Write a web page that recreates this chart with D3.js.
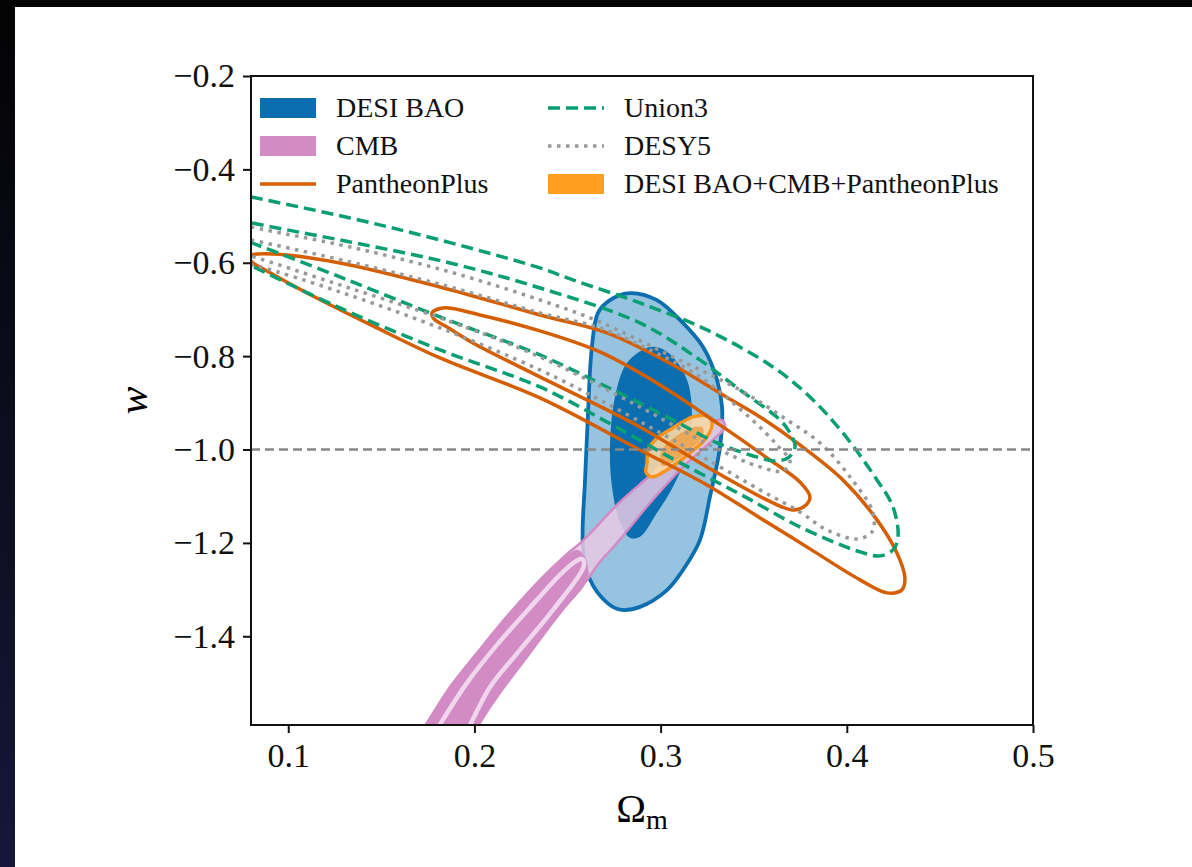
<!DOCTYPE html>
<html lang="en">
<head>
    <meta charset="UTF-8">
    <title>w vs Omega_m contours</title>
    <script src="https://cdn.jsdelivr.net/npm/d3@7"></script>
    <style>
        body{
            margin: 0;
            background: #000;
        }
        text{
            font-family: "Liberation Serif", "DejaVu Serif", serif;
        }
    </style>
</head>
<body>
<svg id="fig" width="1192" height="867"></svg>

<script>
    // tick values
    let xTicks = [0.1, 0.2, 0.3, 0.4, 0.5]
    let yTicks = [-0.2, -0.4, -0.6, -0.8, -1.0, -1.2, -1.4]

    // contours, [Omega_m, w]
    let desiOuter = [[0.2835,-0.665],[0.298,-0.680],[0.3104,-0.7225],[0.3227,-0.780],[0.3303,-0.851],
        [0.333,-0.909],[0.3319,-0.994],[0.3265,-1.101],[0.3211,-1.194],[0.312,-1.258],[0.3034,-1.301],
        [0.2889,-1.337],[0.2782,-1.343],[0.2712,-1.328],[0.2621,-1.279],[0.2583,-1.209],[0.2594,-1.065],
        [0.261,-0.922],[0.2631,-0.780],[0.2664,-0.707],[0.2728,-0.680]]
    let desiInner = [[0.2927,-0.7824],[0.2997,-0.7824],[0.3066,-0.8017],[0.3142,-0.851],[0.3168,-0.9216],
        [0.3142,-1.0073],[0.3066,-1.080],[0.298,-1.1358],[0.2889,-1.187],[0.2835,-1.189],[0.2782,-1.157],
        [0.2739,-1.080],[0.2728,-0.994],[0.2755,-0.887],[0.2819,-0.8146]]

    let cmbOuter = [[0.1616,-1.6647],[0.1745,-1.5854],[0.1869,-1.5084],[0.2014,-1.4355],[0.2191,-1.3499],
        [0.2368,-1.2728],[0.2486,-1.2278],[0.2583,-1.195],[0.2775,-1.115],[0.2945,-1.055],[0.3125,-0.988],
        [0.3245,-0.9475],[0.333,-0.9370],[0.3346,-0.9516],[0.3281,-0.9794],[0.312,-1.0373],[0.2943,-1.1143],
        [0.2766,-1.2],[0.2674,-1.2407],[0.2605,-1.2792],[0.2443,-1.3585],[0.2282,-1.4441],[0.2137,-1.5212],
        [0.203,-1.5854],[0.1933,-1.6647]]
    let cmbTail = [[0.1616,-1.6647],[0.1745,-1.5854],[0.1869,-1.5084],[0.2014,-1.4355],[0.2191,-1.3499],
        [0.2368,-1.2728],[0.2486,-1.23],[0.2556,-1.215],[0.2599,-1.2364],[0.2605,-1.2792],[0.2443,-1.3585],
        [0.2282,-1.4441],[0.2137,-1.5212],[0.203,-1.5854],[0.1933,-1.6647]]
    let cmbInner = [[0.1697,-1.6647],[0.182,-1.5854],[0.196,-1.4998],[0.2121,-1.4184],[0.2336,-1.322],
        [0.2459,-1.2685],[0.254,-1.2407],[0.2578,-1.2343],[0.2588,-1.2493],[0.2422,-1.3435],[0.2245,-1.4291],
        [0.2084,-1.5084],[0.1982,-1.5854],[0.1879,-1.6647]]

    let pantheonOuter = [[0.0805,-0.5833],[0.0918,-0.5812],[0.1278,-0.6004],[0.1815,-0.6518],[0.2352,-0.7118],
        [0.2712,-0.7503],[0.3066,-0.8188],[0.3335,-0.8831],[0.3534,-0.9302],[0.3748,-0.9901],[0.3979,-1.0651],
        [0.4162,-1.1507],[0.4269,-1.2214],[0.4312,-1.2749],[0.4296,-1.3006],[0.4216,-1.307],[0.4071,-1.2792],
        [0.3802,-1.2128],[0.3534,-1.1465],[0.3249,-1.0758],[0.2889,-1.0009],[0.2352,-0.8895],[0.1815,-0.8039],
        [0.1455,-0.7353],[0.1101,-0.6647],[0.0886,-0.6176],[0.0805,-0.5983],[0.0789,-0.5897]]
    let pantheonInner = [[0.1772,-0.7075],[0.1831,-0.6968],[0.203,-0.7118],[0.2352,-0.746],[0.2674,-0.791],
        [0.2997,-0.8617],[0.3319,-0.9473],[0.3587,-1.0223],[0.3748,-1.0694],[0.3802,-1.1015],[0.3775,-1.1208],
        [0.3711,-1.1293],[0.3603,-1.1143],[0.3249,-1.0373],[0.2889,-0.9516],[0.2352,-0.8445],[0.1992,-0.7717],
        [0.1853,-0.7375],[0.1783,-0.7203]]

    let union3Outer = [[0.0687,-0.4505],[0.08,-0.4591],[0.1332,-0.5041],[0.1815,-0.5512],[0.2352,-0.6111],
        [0.2529,-0.6368],[0.2889,-0.6861],[0.3249,-0.7439],[0.3603,-0.8231],[0.3802,-0.8874],[0.3979,-0.9645],
        [0.4162,-1.0651],[0.4248,-1.1229],[0.4275,-1.1872],[0.4248,-1.215],[0.4178,-1.2278],[0.4071,-1.2193],
        [0.3748,-1.1657],[0.3464,-1.1036],[0.3249,-1.0587],[0.3066,-1.0201],[0.2712,-0.9409],[0.2352,-0.866],
        [0.1815,-0.7867],[0.1278,-0.6968],[0.0805,-0.6069],[0.0687,-0.5833]]
    let union3Inner = [[0.0687,-0.5041],[0.0805,-0.5148],[0.1332,-0.5555],[0.1869,-0.6004],[0.2352,-0.654],
        [0.2889,-0.7289],[0.3211,-0.8081],[0.3426,-0.8724],[0.3641,-0.9366],[0.3695,-0.9645],[0.3722,-0.9944],
        [0.3684,-1.018],[0.3614,-1.0244],[0.3534,-1.018],[0.3303,-0.9859],[0.3066,-0.9366],[0.2712,-0.866],
        [0.2352,-0.7974],[0.1815,-0.7161],[0.1278,-0.6304],[0.0805,-0.5576],[0.0687,-0.5405]]

    let desy5Outer = [[0.0687,-0.5126],[0.08,-0.5233],[0.1332,-0.5662],[0.1869,-0.6197],[0.2352,-0.6797],
        [0.2674,-0.7268],[0.3066,-0.8017],[0.3426,-0.8724],[0.3679,-0.9366],[0.3856,-0.9859],[0.4017,-1.0587],
        [0.4141,-1.1358],[0.4135,-1.1764],[0.4055,-1.1914],[0.3893,-1.1722],[0.3748,-1.1336],[0.3534,-1.0865],
        [0.3066,-0.9794],[0.2674,-0.8938],[0.2352,-0.8296],[0.1815,-0.7396],[0.1278,-0.6625],[0.0832,-0.6069],
        [0.0687,-0.594]]
    let desy5Inner = [[0.0687,-0.5426],[0.08,-0.5512],[0.1332,-0.5983],[0.1869,-0.6518],[0.2352,-0.7075],
        [0.2674,-0.7396],[0.2943,-0.7867],[0.3211,-0.8445],[0.348,-0.9323],[0.3625,-0.9901],[0.3695,-1.0266],
        [0.3657,-1.0458],[0.3534,-1.0373],[0.3281,-0.994],[0.2889,-0.9088],[0.2352,-0.8017],[0.1815,-0.7182],
        [0.1278,-0.6475],[0.08,-0.5854],[0.0687,-0.5726]]

    let comboOuter = [[0.2927,-1.0287],[0.2933,-1.0009],[0.297,-0.9794],[0.3066,-0.9537],[0.3174,-0.9302],
        [0.3249,-0.928],[0.3276,-0.943],[0.3249,-0.973],[0.3158,-1.0073],[0.3034,-1.0437],[0.2954,-1.0587],
        [0.2921,-1.048]]
    let comboInner = [[0.2997,-1.018],[0.3018,-0.994],[0.3093,-0.9687],[0.3179,-0.9516],[0.3227,-0.9537],
        [0.3222,-0.975],[0.3147,-1.005],[0.3061,-1.0287],[0.3008,-1.035]]

    let wLambda = -1.0

    let legendCol1 = ["DESI BAO", "CMB", "PantheonPlus"]
    let legendCol2 = ["Union3", "DESY5", "DESI BAO+CMB+PantheonPlus"]

    const blue = "#0a6eb0", blueLight = "#96c3df"
    const pink = "#d28bc5", pinkLight = "#e9c9e4"
    const orange = "#d55e00"
    const green = "#0a9e73"
    const grey = "#999999"
    const amber = "#f7941d"

    let svg = d3.select("#fig")

    // page background: dark margin + white sheet
    let defs = svg.append("defs")
    let grad = defs.append("linearGradient").attr("id", "edge")
        .attr("x1", 0).attr("y1", 0).attr("x2", 0).attr("y2", 1)
    grad.append("stop").attr("offset", "0%").attr("stop-color", "#030303")
    grad.append("stop").attr("offset", "100%").attr("stop-color", "#15173a")
    svg.append("rect").attr("width", 1192).attr("height", 867).attr("fill", "url(#edge)")
    svg.append("rect").attr("x", 15).attr("y", 7).attr("width", 1177).attr("height", 860).attr("fill", "#fff")

    let x = d3.scaleLinear().domain([0.08, 0.5]).range([251, 1033])
    let y = d3.scaleLinear().domain([-0.2, -1.59]).range([76, 725])

    defs.append("clipPath").attr("id", "plotclip")
        .append("rect")
        .attr("x", x.range()[0]).attr("y", y.range()[0])
        .attr("width", x.range()[1] - x.range()[0])
        .attr("height", y.range()[1] - y.range()[0])

    let closed = d3.line()
        .x(d => x(d[0]))
        .y(d => y(d[1]))
        .curve(d3.curveCatmullRomClosed.alpha(0.5))

    let plot = svg.append("g").attr("clip-path", "url(#plotclip)")

    function area(pts, fill, stroke, sw, opacity) {
        plot.append("path")
            .attr("d", closed(pts))
            .attr("fill", fill)
            .attr("fill-opacity", opacity || 1)
            .attr("stroke", stroke || "none")
            .attr("stroke-width", sw || 0)
            .attr("stroke-linejoin", "round")
    }
    function contour(pts, color, dash, sw) {
        plot.append("path")
            .attr("d", closed(pts))
            .attr("fill", "none")
            .attr("stroke", color)
            .attr("stroke-width", sw)
            .attr("stroke-dasharray", dash)
            .attr("stroke-linecap", dash ? "butt" : "round")
    }

    // DESI BAO
    area(desiOuter, blueLight, blue, 3.8)
    area(desiInner, blue)

    // CMB
    area(cmbOuter, pinkLight, null, 0, 0.85)
    area(cmbTail, pink)
    area(cmbInner, pink, "#efd6ec", 4.5)
    area(cmbOuter, "none", pink, 2.5)

    // combined
    area(comboOuter, "#fbd8a5", null, 0, 0.9)
    area(comboInner, "#eca24a", null, 0, 0.85)
    area(comboOuter, "none", amber, 3.5)

    // PantheonPlus, Union3, DESY5
    contour(pantheonOuter, orange, null, 3.5)
    contour(pantheonInner, orange, null, 3.5)
    contour(union3Outer, green, "12,6", 3.5)
    contour(union3Inner, green, "12,6", 3.5)
    contour(desy5Outer, grey, "3.5,5.5", 3.5)
    contour(desy5Inner, grey, "3.5,5.5", 3.5)

    // w = -1 reference
    plot.append("line")
        .attr("x1", x.range()[0]).attr("x2", x.range()[1])
        .attr("y1", y(wLambda)).attr("y2", y(wLambda))
        .attr("stroke", "#888").attr("stroke-width", 2.5)
        .attr("stroke-dasharray", "9,5")

    // axes
    let fmt = d3.format(".1f")
    let gx = svg.append("g").attr("transform", "translate(0," + y.range()[1] + ")")
        .call(d3.axisBottom(x).tickValues(xTicks).tickSize(8).tickPadding(10).tickFormat(fmt))
    let gy = svg.append("g").attr("transform", "translate(" + x.range()[0] + ",0)")
        .call(d3.axisLeft(y).tickValues(yTicks).tickSize(8).tickPadding(8).tickFormat(fmt))
    for (let g of [gx, gy]) {
        g.select(".domain").remove()
        g.selectAll(".tick line").attr("stroke", "#111").attr("stroke-width", 2)
        g.selectAll(".tick text")
            .attr("fill", "#111")
            .style("font-size", "34px")
            .style("font-family", '"Liberation Serif", "DejaVu Serif", serif')
    }
    svg.append("rect")
        .attr("x", x.range()[0]).attr("y", y.range()[0])
        .attr("width", x.range()[1] - x.range()[0])
        .attr("height", y.range()[1] - y.range()[0])
        .attr("fill", "none").attr("stroke", "#111").attr("stroke-width", 2)

    // axis labels
    let xl = svg.append("text")
        .attr("x", (x.range()[0] + x.range()[1]) / 2)
        .attr("y", 822)
        .attr("text-anchor", "middle")
        .style("font-size", "40px")
    xl.append("tspan").text("Ω")
    xl.append("tspan").attr("dy", 7).style("font-size", "28px").text("m")

    svg.append("text")
        .attr("transform", "translate(147," + (y.range()[0] + y.range()[1]) / 2 + ") rotate(-90)")
        .attr("text-anchor", "middle")
        .style("font-size", "42px")
        .style("font-style", "italic")
        .text("w")

    // legend
    let rowY = [108, 146, 184]
    let leg = svg.append("g")
    function legendItem(x0, yc, label, kind, color, dash) {
        if (kind === "patch") {
            leg.append("rect").attr("x", x0).attr("y", yc - 10)
                .attr("width", 56).attr("height", 20).attr("fill", color)
        } else {
            leg.append("line").attr("x1", x0).attr("x2", x0 + 56)
                .attr("y1", yc).attr("y2", yc)
                .attr("stroke", color).attr("stroke-width", 3.5)
                .attr("stroke-dasharray", dash)
        }
        leg.append("text").attr("x", x0 + 76).attr("y", yc + 9)
            .style("font-size", "28px").attr("fill", "#111").text(label)
    }
    legendItem(260, rowY[0], legendCol1[0], "patch", blue)
    legendItem(260, rowY[1], legendCol1[1], "patch", pink)
    legendItem(260, rowY[2], legendCol1[2], "line", orange, null)
    legendItem(548, rowY[0], legendCol2[0], "line", green, "12,6")
    legendItem(548, rowY[1], legendCol2[1], "line", grey, "3.5,5.5")
    legendItem(548, rowY[2], legendCol2[2], "patch", "#ff9f22")
</script>

</body>
</html>
